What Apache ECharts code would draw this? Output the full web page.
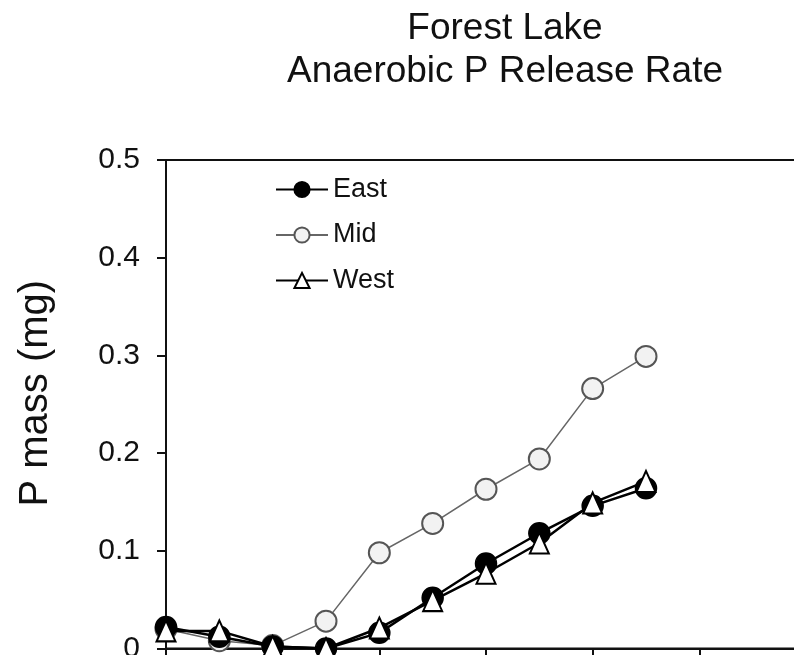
<!DOCTYPE html>
<html><head><meta charset="utf-8">
<script src="https://cdn.jsdelivr.net/npm/echarts@6/dist/echarts.min.js"></script>
<style>html,body{margin:0;padding:0;background:#fff}#c{width:794px;height:655px}</style>
</head><body><div id="c"></div>
<script>
var xs = [0,1,2,3,4,5,6,7,8,9];
var east = [0.022,0.012,0.002,0.0,0.016,0.052,0.087,0.118,0.146,0.164];
var mid  = [0.020,0.008,0.003,0.028,0.098,0.128,0.163,0.194,0.266,0.299];
var west = [0.018,0.018,0.002,0.0,0.021,0.049,0.077,0.108,0.149,0.171];
var yTicks = [0,0.1,0.2,0.3,0.4,0.5];
function pairs(v){return xs.map(function(x,i){return [x,v[i]];});}
var font = 'Liberation Sans, Arial, sans-serif';
var chart = echarts.init(document.getElementById('c'));
chart.setOption({
  animation:false,
  title:{text:'Forest Lake\nAnaerobic P Release Rate',left:500,textAlign:'center',top:2,
    textStyle:{fontFamily:font,fontSize:37,fontWeight:'normal',color:'#111',lineHeight:43}},
  grid:{left:166,top:160,width:640,height:488.5,show:true,borderColor:'#111',borderWidth:2,
    backgroundColor:'transparent',containLabel:false,outerBoundsMode:'none'},
  legend:{left:270,top:171,orient:'vertical',itemGap:18.5,itemWidth:52,itemHeight:19,
    textStyle:{fontFamily:font,fontSize:27,lineHeight:27,color:'#111'},
    data:['East','Mid','West']},
  xAxis:{type:'value',min:0,max:12,interval:2,
    axisLine:{show:true,lineStyle:{color:'#111',width:2}},
    axisTick:{show:true,length:8,lineStyle:{color:'#111',width:2}},
    axisLabel:{fontFamily:font,fontSize:30,color:'#111',margin:12},
    splitLine:{show:false}},
  yAxis:{type:'value',min:0,max:0.5,interval:0.1,
    name:'P mass (mg)',nameLocation:'middle',nameGap:110,
    nameTextStyle:{fontFamily:font,fontSize:40,color:'#111',padding:[0,0,0,22]},
    axisLine:{show:true,lineStyle:{color:'#111',width:2}},
    axisTick:{show:true,length:9,lineStyle:{color:'#111',width:2}},
    axisLabel:{fontFamily:font,fontSize:30,color:'#111',margin:26,
      formatter:function(v){return v===0?'0':v.toFixed(1);}},
    splitLine:{show:false}},
  series:[
    {name:'Mid',type:'line',data:pairs(mid),symbol:'circle',symbolSize:21,z:2,
      lineStyle:{color:'#666',width:1.5},
      itemStyle:{color:'#f2f2f2',borderColor:'#555',borderWidth:2}},
    {name:'East',type:'line',data:pairs(east),symbol:'circle',symbolSize:21,z:3,
      lineStyle:{color:'#000',width:2.5},
      itemStyle:{color:'#000',borderColor:'#000',borderWidth:1.5}},
    {name:'West',type:'line',data:pairs(west),symbol:'triangle',symbolSize:[19,21],z:4,
      lineStyle:{color:'#000',width:2.5},
      itemStyle:{color:'#fff',borderColor:'#000',borderWidth:2}}
  ]
});
</script></body></html>
